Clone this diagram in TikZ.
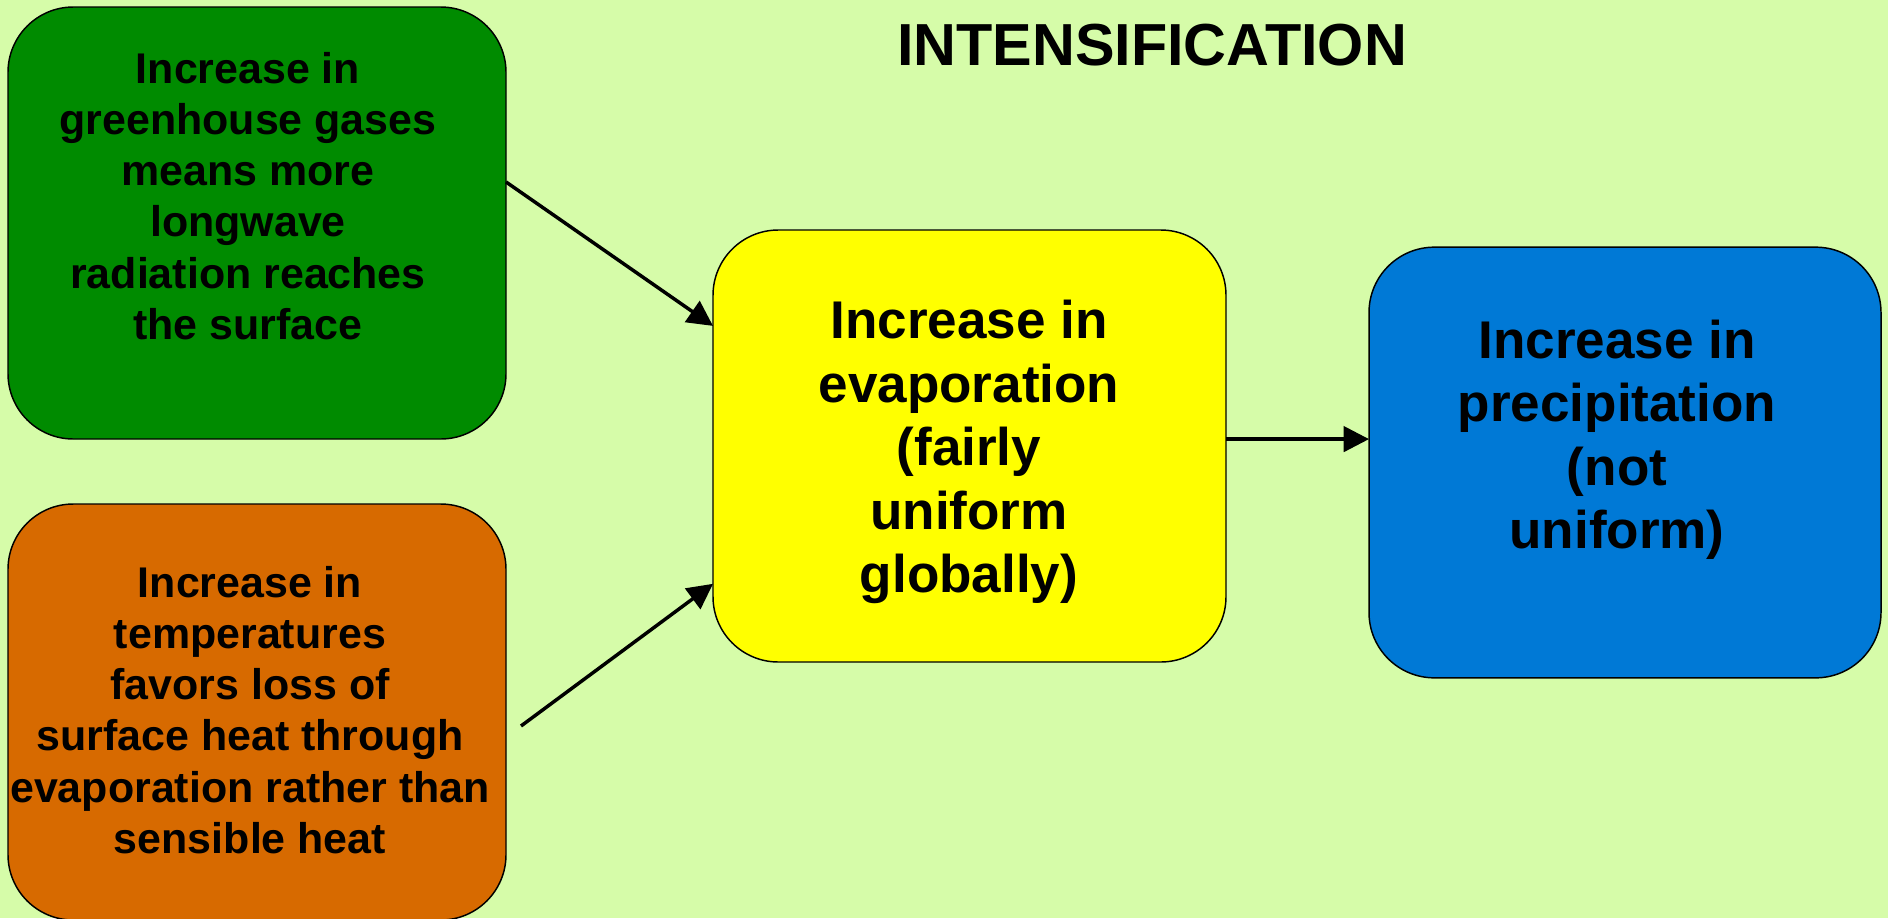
\documentclass[tikz,border=0pt]{standalone}
\usepackage{fontspec}
\setmainfont{Liberation Sans}
\usetikzlibrary{arrows.meta,calc}

\definecolor{bgcol}{RGB}{214,252,169}
\definecolor{ghgcol}{RGB}{0,139,0}
\definecolor{tempcol}{RGB}{215,106,0}
\definecolor{evapcol}{RGB}{255,255,0}
\definecolor{precipcol}{RGB}{0,121,214}

\tikzset{
  box/.style={draw=black, line width=1.1pt, rounded corners=49pt, inner sep=0pt, outer sep=0pt},
  smalltxt/.style={align=center, inner sep=0pt, font=\bfseries\fontsize{32.2}{38.4}\selectfont},
  bigtxt/.style={align=center, inner sep=0pt, font=\bfseries\fontsize{39.8}{47.6}\selectfont},
  flow/.style={line width=2.6pt, -{Triangle[length=19pt,width=19pt]}}
}

\begin{document}
\begin{tikzpicture}[x=0.75pt,y=0.75pt,yscale=-1,xscale=1]
            %set diagram size to 1888 x 918
            \fill [bgcol] (0,0) rectangle (1888,918);
            \useasboundingbox (0,0) rectangle (1888,918);

            %Shape: Rounded Rectangle [id:ghg]
            \node [box, fill=ghgcol, minimum width=373.5pt, minimum height=324pt] (ghg) at (257,223) {};
            %Shape: Rounded Rectangle [id:temp]
            \node [box, fill=tempcol, minimum width=373.5pt, minimum height=312pt] (temp) at (257,712) {};
            %Shape: Rounded Rectangle [id:evap]
            \node [box, fill=evapcol, minimum width=384.75pt, minimum height=324pt] (evap) at (969.5,446) {};
            %Shape: Rounded Rectangle [id:precip]
            \node [box, fill=precipcol, minimum width=384pt, minimum height=323pt] (precip) at (1625,462.5) {};

            %Straight Lines [id:ghg-evap]
            \draw [flow] ($(ghg.north east)!0.405!(ghg.south east)$) -- ($(evap.north west)!0.222!(evap.south west)$);
            %Straight Lines [id:temp-evap]
            \coordinate (tempout) at (521,726);
            \draw [flow] (tempout) -- ($(evap.north west)!0.819!(evap.south west)$);
            %Straight Lines [id:evap-precip]
            \coordinate (evapout) at ($(evap.north east)!0.484!(evap.south east)$);
            \draw [flow] (evapout) -- (evapout -| precip.west);

            % Text Node
            \node [inner sep=0pt, font=\bfseries\fontsize{44.5}{53}\selectfont] (title) at (1152,45) {INTENSIFICATION};
            % Text Node
            \node [smalltxt] (ghgtxt) at (248,196) {Increase in\\greenhouse gases\\means more\\longwave\\radiation reaches\\the surface};
            % Text Node
            \node [smalltxt] (temptxt) at (250,710) {Increase in\\temperatures\\favors loss of\\surface heat through\\evaporation rather than\\sensible heat};
            % Text Node
            \node [bigtxt] (evaptxt) at (969,452) {Increase in\\evaporation\\(fairly\\uniform\\globally)};
            % Text Node
            \node [bigtxt] (preciptxt) at (1617,440) {Increase in\\precipitation\\(not\\uniform)};

\end{tikzpicture}
\end{document}
